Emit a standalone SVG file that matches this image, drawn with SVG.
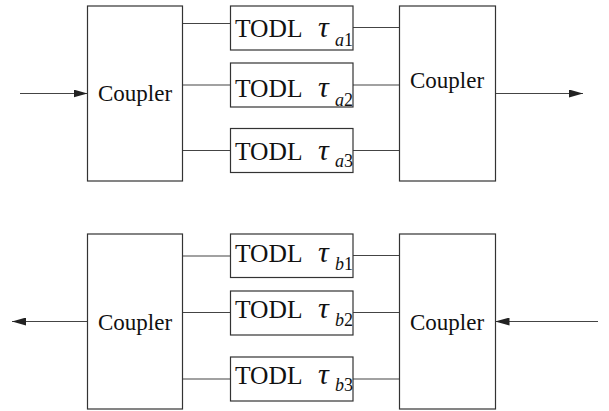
<svg xmlns="http://www.w3.org/2000/svg" width="609" height="411" viewBox="0 0 609 411">
<defs>
<style>
.box{fill:#fff;stroke:#333;stroke-width:1.2}
.ln{stroke:#444;stroke-width:1.2;fill:none}
.cp{font-size:23px}
.td{font-size:25.5px}
.tau{font-size:30px;font-style:italic}
.sub{font-size:18px}
.it{font-style:italic}
</style>
<marker id="ah" viewBox="0 0 14 8" refX="14" refY="4" markerWidth="14" markerHeight="8" markerUnits="userSpaceOnUse" orient="auto">
<path d="M0,0 L14,4 L0,8 Z" fill="#222"/>
</marker>
</defs>
<g id="connectors">
<line class="ln" x1="20" y1="93.5" x2="87.5" y2="93.5" marker-end="url(#ah)"/>
<line class="ln" x1="495.5" y1="93.5" x2="583" y2="93.5" marker-end="url(#ah)"/>
<line class="ln" x1="182.5" y1="23.5" x2="230.5" y2="23.5"/>
<line class="ln" x1="182.5" y1="85" x2="230.5" y2="85"/>
<line class="ln" x1="182.5" y1="150.5" x2="230.5" y2="150.5"/>
<line class="ln" x1="353" y1="27.5" x2="402" y2="27.5"/>
<line class="ln" x1="353" y1="85" x2="402" y2="85"/>
<line class="ln" x1="353" y1="150.5" x2="402" y2="150.5"/>
<line class="ln" x1="87.5" y1="321.5" x2="12" y2="321.5" marker-end="url(#ah)"/>
<line class="ln" x1="598" y1="321.5" x2="495.5" y2="321.5" marker-end="url(#ah)"/>
<line class="ln" x1="182.5" y1="256" x2="230.5" y2="256"/>
<line class="ln" x1="182.5" y1="312.5" x2="230.5" y2="312.5"/>
<line class="ln" x1="182.5" y1="379" x2="230.5" y2="379"/>
<line class="ln" x1="353" y1="255.5" x2="402" y2="255.5"/>
<line class="ln" x1="353" y1="312.5" x2="402" y2="312.5"/>
<line class="ln" x1="353" y1="379" x2="402" y2="379"/>
</g>
<g font-family="Liberation Serif, Times New Roman, DejaVu Serif, serif" fill="#111">
<g id="couplerA1">
<rect class="box" x="87.5" y="6" width="95" height="175"/>
<text class="cp" x="98" y="100.5">Coupler</text>
</g>
<g id="couplerA2">
<rect class="box" x="399.5" y="6" width="96" height="175"/>
<text class="cp" x="410" y="88">Coupler</text>
</g>
<g id="todlA1">
<rect class="box" x="230.5" y="6" width="122.5" height="44"/>
<text class="td" x="235" y="36.5">TODL</text>
<text class="tau" x="318" y="37">τ</text>
<text class="sub" x="335" y="46"><tspan class="it">a</tspan>1</text>
</g>
<g id="todlA2">
<rect class="box" x="230.5" y="63" width="122.5" height="44"/>
<text class="td" x="235" y="96.5">TODL</text>
<text class="tau" x="318" y="97">τ</text>
<text class="sub" x="335" y="105.5"><tspan class="it">a</tspan>2</text>
</g>
<g id="todlA3">
<rect class="box" x="230.5" y="128.5" width="122.5" height="44"/>
<text class="td" x="235" y="159.5">TODL</text>
<text class="tau" x="318" y="160">τ</text>
<text class="sub" x="335" y="167"><tspan class="it">a</tspan>3</text>
</g>
<g id="couplerB1">
<rect class="box" x="87.5" y="234" width="95" height="175"/>
<text class="cp" x="98" y="329.5">Coupler</text>
</g>
<g id="couplerB2">
<rect class="box" x="399.5" y="234" width="96" height="175"/>
<text class="cp" x="410" y="329.5">Coupler</text>
</g>
<g id="todlB1">
<rect class="box" x="230.5" y="234" width="122.5" height="43.5"/>
<text class="td" x="235" y="261.5">TODL</text>
<text class="tau" x="318" y="262">τ</text>
<text class="sub" x="335" y="269.5"><tspan class="it">b</tspan>1</text>
</g>
<g id="todlB2">
<rect class="box" x="230.5" y="291" width="122.5" height="44"/>
<text class="td" x="235" y="317.5">TODL</text>
<text class="tau" x="318" y="318">τ</text>
<text class="sub" x="335" y="326"><tspan class="it">b</tspan>2</text>
</g>
<g id="todlB3">
<rect class="box" x="230.5" y="357" width="122.5" height="44"/>
<text class="td" x="235" y="383.5">TODL</text>
<text class="tau" x="318" y="384">τ</text>
<text class="sub" x="335" y="391"><tspan class="it">b</tspan>3</text>
</g>
</g>
</svg>
